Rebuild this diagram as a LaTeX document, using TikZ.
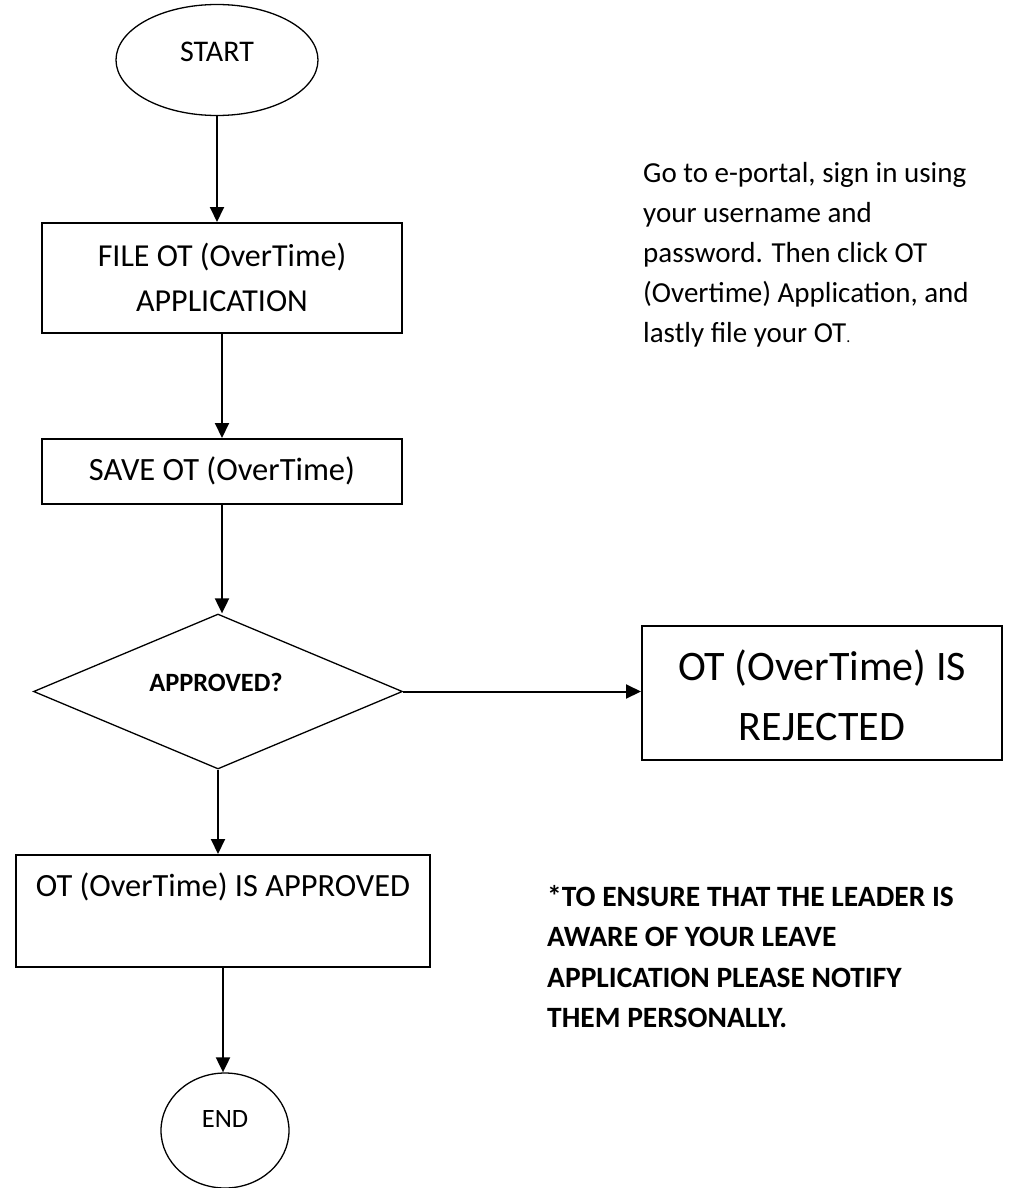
\documentclass[tikz,border=0pt]{standalone}
\usepackage{fontspec}
\setmainfont{Carlito}
\usetikzlibrary{shapes.geometric,arrows.meta}
\tikzset{
  shapebox/.style={draw, line width=2pt, inner sep=0pt},
  thinshape/.style={draw, line width=1.3pt, inner sep=0pt},
  txt/.style={inner sep=0pt, align=center},
  conn/.style={line width=2pt, -{Triangle[length=15pt,width=14pt]}},
}
\begin{document}
\begin{tikzpicture}[x=1pt,y=-1pt]
\useasboundingbox (0,0) rectangle (1011,1188);
% shapes
\node[thinshape, ellipse, minimum width=202pt, minimum height=111pt] (start) at (217,60) {};
\node[shapebox, rectangle, minimum width=360pt, minimum height=110pt] (file) at (222,278) {};
\node[shapebox, rectangle, minimum width=360pt, minimum height=65pt] (save) at (222,471.5) {};
\node[thinshape, diamond, minimum width=369pt, minimum height=155pt] (dec) at (218,691.5) {};
\node[shapebox, rectangle, minimum width=360pt, minimum height=134pt] (rej) at (822,693) {};
\node[shapebox, rectangle, minimum width=414pt, minimum height=112pt] (appr) at (223,911) {};
\node[thinshape, ellipse, minimum width=128pt, minimum height=115pt] (endn) at (225,1130.5) {};
% texts
\node[txt, font=\fontsize{30}{36}\selectfont] (tstart) at (217,52) {START};
\node[txt, font=\fontsize{32}{45}\selectfont] (tfile) at (222,277) {FILE OT (OverTime)\\APPLICATION};
\node[txt, font=\fontsize{32.5}{38}\selectfont] (tsave) at (222,471) {SAVE OT (OverTime)};
\node[txt, font=\bfseries\fontsize{26.4}{30}\selectfont] (tdec) at (216,682) {APPROVED?};
\node[txt, font=\fontsize{42}{60}\selectfont] (trej) at (822,695) {OT (OverTime) IS\\REJECTED};
\node[txt, font=\fontsize{32.4}{36}\selectfont] (tappr) at (223,887) {OT (OverTime) IS APPROVED};
\node[txt, font=\fontsize{26.5}{30}\selectfont] (tend) at (225,1119) {END};
\node[txt, align=left, anchor=north west, font=\fontsize{29}{40}\selectfont] (tdesc) at (643,162)
  {Go to e-portal, sign in using\\your username and\\password. Then click OT\\(Overtime) Application, and\\lastly file your OT{\fontsize{16}{16}\selectfont .}};
\node[txt, align=left, anchor=north west, font=\bfseries\fontsize{29.5}{40.5}\selectfont] (tnote) at (547,885)
  {*TO ENSURE THAT THE LEADER IS\\AWARE OF YOUR LEAVE\\APPLICATION PLEASE NOTIFY\\THEM PERSONALLY.};
% connectors
\draw[conn] (start.south) -- (start.south |- file.north);
\draw[conn] (file.south) -- (file.south |- save.north);
\draw[conn] (save.south) -- (save.south |- dec.north);
\draw[conn] (dec.east) -- (rej.west |- dec.east);
\draw[conn] (dec.south) -- (dec.south |- appr.north);
\draw[conn] (appr.south) -- (appr.south |- endn.north);
\end{tikzpicture}
\end{document}
